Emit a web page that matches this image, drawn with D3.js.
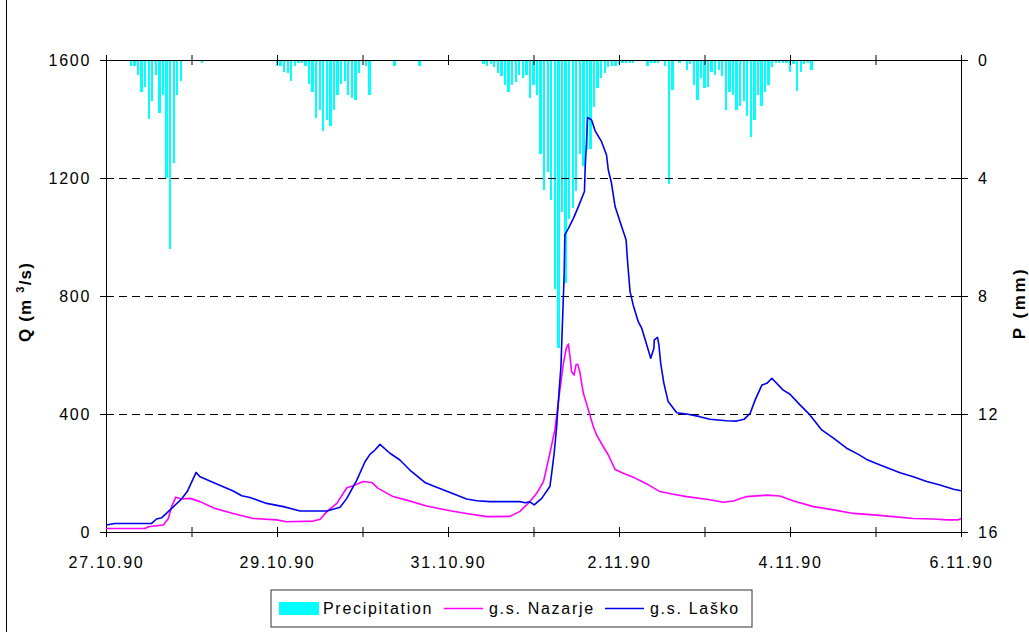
<!DOCTYPE html>
<html>
<head>
<meta charset="utf-8">
<script src="https://cdn.jsdelivr.net/npm/d3@7"></script>
<style>
  body { margin: 0; background: #fff; }
  text { font-family: "Liberation Sans", Arial, sans-serif; fill: #000; }
</style>
</head>
<body>
<svg id="chart" width="1029" height="632"></svg>
<script>
// ---------------- DATA ----------------
// time axis: hours since 27.10.90 00:00 (10 days)
const dayTicks = [0, 1, 2, 3, 4, 5, 6, 7, 8, 9, 10];
const labelDays = [0, 2, 4, 6, 8, 10];
const dateLabels = ["27.10.90", "29.10.90", "31.10.90", "2.11.90", "4.11.90", "6.11.90"];
const qTicks = [0, 400, 800, 1200, 1600];
const pTicks = [0, 4, 8, 12, 16];
const gridQ = [400, 800, 1200];

// hourly precipitation (mm), one row per day
const precipDay0 = [0,0,0,0,0,0,0,0.2,0.2,0.5,1.1,0.9,2.0,1.4,0.5,1.8,1.2,4.0,6.4,3.5,1.2,0.7,0,0];
const precipDay1 = [0.05,0,0,0.1,0,0.05,0.05,0,0,0,0,0,0,0,0,0,0,0,0,0,0,0,0,0];
const precipDay2 = [0.2,0.2,0.4,0.45,0.7,0.2,0.1,0.1,0.2,0.8,1.1,1.95,1.7,2.4,2.05,2.25,1.7,1.2,0.8,0.7,1.2,1.3,1.35,0.45];
const precipDay3 = [0.05,0.2,1.2,0.05,0,0.05,0.05,0.05,0.05,0.2,0.05,0,0.05,0,0,0.05,0.2,0,0,0,0,0,0,0];
const precipDay4 = [0,0,0,0,0,0,0,0,0,0.05,0.15,0.2,0.15,0.25,0.45,0.55,0.85,1.1,0.85,0.75,0.5,0.6,0.5,1.3];
const precipDay5 = [0.85,1.2,3.2,4.4,3.8,4.75,7.75,9.75,5.15,7.55,5.4,5.0,4.45,3.2,3.6,3.05,3.0,1.6,0.95,0.6,0.45,0.25,0.2,0.2];
const precipDay6 = [0.15,0.1,0.1,0.1,0.1,0.05,0.05,0,0.2,0.1,0.1,0.1,0,0.2,4.2,1.0,0.05,0.1,0.05,0.35,0.15,0.85,1.35,0.6];
const precipDay7 = [0.95,0.9,0.4,0.5,0.35,0.55,1.7,1.1,1.2,1.7,1.55,1.4,1.9,2.6,2.05,1.2,1.55,1.1,0.85,0.25,0.1,0.1,0.1,0.1];
const precipDay8 = [0.4,0.15,1.05,0.4,0.15,0.1,0.35,0,0,0,0,0,0,0,0,0,0,0,0,0,0,0,0,0];
const precipDay9 = [0,0,0,0,0,0,0,0,0,0,0,0,0,0,0,0,0,0,0,0,0,0,0,0];

// discharge g.s. Laško (hour, m3/s)
const laskoHours = [0,2.5,12.8,14.2,15.6,18,21.2,22.8,25.3,26.4,31.1,35.7,38.1,40.4,45.1,49.8,54.5,62,65.7,67.6,70.4,72.7,74.1,75.5,76.9,79.7,82.5,85.3,89.5,91.9,96.6,101.2,104.1,107.8,116.2,117.6,119,120.2,122.3,124.6,125.1,125.8,126.5,127.2,127.7,128.1,128.6,128.8,129.8,131.2,132.6,134.3,134.5,134.9,135.2,136.3,137.3,139.1,140.5,141,141.9,142.9,144.3,146,146.3,147.1,148,149.4,150.4,151.8,152.9,153.8,153.9,154.8,155.2,155.7,156.6,157.8,160.2,163,166.7,169.5,174.2,177,179.1,180.8,182.2,184.1,185.5,186.9,190.1,192,194.8,197.6,200.9,204.2,207.9,211.2,213.5,217.3,222.9,226.6,230.4,234.1,237.9,240];
const laskoQ = [24,29,29,44,48,75,112,137,202,187,163,139,123,117,97,86,71,71,84,114,176,238,263,278,297,267,244,210,168,156,134,112,106,103,103,99,102,92,114,154,199,267,357,481,560,700,871,1007,1029,1063,1103,1154,1233,1329,1405,1397,1360,1323,1278,1227,1182,1103,1052,990,933,815,769,713,690,634,589,623,651,660,634,572,504,442,404,400,391,382,377,376,382,402,447,498,504,521,481,467,431,397,346,318,284,263,246,227,201,187,171,159,145,140];

// discharge g.s. Nazarje (hour, m3/s)
const nazarjeHours = [0,10.9,11.9,16.1,17.5,18.4,19.6,21.2,23.6,26.4,30.6,35.7,41.3,47.9,50.7,58.2,60.1,62,64.8,67.6,69.4,72.2,74.6,76.4,80.6,84.4,90,96.6,101.2,106.9,113.4,116.2,119,120.9,122.8,124.6,126,127.4,128.4,129.2,129.8,130.3,130.7,131.4,131.9,132.4,133,134,135.4,136.8,137.7,139.6,141,142.9,145.2,148,151.8,155.5,159.2,163,168.6,173.3,176.1,179.8,185.5,189.2,193,198.6,204.2,209.8,215.4,221,226.6,232.2,236,239.2,240];
const nazarjeQ = [12,12,18,24,46,86,118,112,114,103,80,63,46,41,35,37,43,69,97,150,157,171,168,148,120,108,88,72,63,52,53,70,103,131,171,267,346,481,572,623,637,589,543,532,566,569,543,470,414,357,329,289,261,212,199,186,163,137,128,120,111,101,105,120,125,122,105,86,75,63,58,52,46,44,41,41,46];

const seriesNames = ["Precipitation", "g.s. Nazarje", "g.s. Laško"];
const seriesColors = ["#00ffff", "#ff00ff", "#0000ee"];

// ---------------- CHART ----------------
const precip = [].concat(precipDay0, precipDay1, precipDay2, precipDay3, precipDay4,
                         precipDay5, precipDay6, precipDay7, precipDay8, precipDay9);
const lasko = laskoHours.map((h, i) => [h, laskoQ[i]]);
const nazarje = nazarjeHours.map((h, i) => [h, nazarjeQ[i]]);

const svg = d3.select("#chart");
const L = 106, R = 961, T = 60, B = 532;

const x = d3.scaleLinear().domain([0, 240]).range([L, R]);
const yQ = d3.scaleLinear().domain([0, 1600]).range([B, T]);
const yP = d3.scaleLinear().domain([0, 16]).range([T, B]);

// outer chart-area border (left edge visible)
svg.append("line").attr("x1", 6.5).attr("x2", 6.5).attr("y1", 0).attr("y2", 632)
   .attr("stroke", "#000").attr("stroke-width", 1);

// precipitation bars (hanging from top, secondary axis)
const barW = (x(1) - x(0)) * 0.66;
svg.append("g").selectAll("rect")
  .data(precip.map((v, h) => ({h, v})).filter(d => d.v > 0))
  .join("rect")
  .attr("x", d => x(d.h) - barW / 2)
  .attr("width", barW)
  .attr("y", yP(0))
  .attr("height", d => yP(d.v) - yP(0))
  .attr("fill", seriesColors[0])
  .attr("shape-rendering", "crispEdges");

// dashed gridlines
svg.append("g").selectAll("line")
  .data(gridQ)
  .join("line")
  .attr("x1", L).attr("x2", R)
  .attr("y1", d => Math.round(yQ(d)) + 0.5).attr("y2", d => Math.round(yQ(d)) + 0.5)
  .attr("stroke", "#000").attr("stroke-width", 1).attr("stroke-dasharray", "8,5");

// axes
const fs = 16, ls = 1.7;
function styleAxis(g) {
  g.selectAll("text").attr("font-size", fs).attr("letter-spacing", ls)
    .attr("font-family", "'Liberation Sans', Arial, sans-serif").attr("fill", "#000");
  g.selectAll("path, line").attr("stroke", "#000");
}

const axL = svg.append("g").attr("transform", `translate(${L},0)`)
  .call(d3.axisLeft(yQ).tickValues(qTicks).tickSizeInner(6).tickSizeOuter(0).tickPadding(9).tickFormat(d3.format("d")))
  .call(styleAxis);
axL.selectAll(".tick line").attr("x1", 4);

const axR = svg.append("g").attr("transform", `translate(${R},0)`)
  .call(d3.axisRight(yP).tickValues(pTicks).tickSizeInner(7).tickSizeOuter(0).tickPadding(10).tickFormat(d3.format("d")))
  .call(styleAxis);
axR.selectAll(".tick line").attr("x1", -8);

const labelMap = new Map(labelDays.map((d, i) => [d * 24, dateLabels[i]]));
const axB = svg.append("g").attr("transform", `translate(0,${B})`)
  .call(d3.axisBottom(x).tickValues(dayTicks.map(d => d * 24)).tickSizeInner(5).tickSizeOuter(0).tickPadding(20)
        .tickFormat(d => labelMap.get(d) || ""))
  .call(styleAxis);
axB.selectAll(".tick line").attr("y1", -5);

const axT = svg.append("g").attr("transform", `translate(0,${T})`)
  .call(d3.axisTop(x).tickValues(dayTicks.map(d => d * 24)).tickSizeInner(5).tickSizeOuter(0).tickFormat(""))
  .call(styleAxis);
axT.selectAll(".tick line").attr("y1", 5);

// discharge lines
const line = d3.line().x(d => x(d[0])).y(d => yQ(d[1]));
svg.append("path").datum(nazarje).attr("d", line)
  .attr("fill", "none").attr("stroke", seriesColors[1]).attr("stroke-width", 1.6).attr("stroke-linejoin", "round");
svg.append("path").datum(lasko).attr("d", line)
  .attr("fill", "none").attr("stroke", seriesColors[2]).attr("stroke-width", 1.6).attr("stroke-linejoin", "round");

// axis titles
const qt = svg.append("text")
  .attr("transform", "translate(31,302) rotate(-90)")
  .attr("text-anchor", "middle").attr("font-weight", "bold").attr("font-size", 17)
  .attr("letter-spacing", 1.2);
qt.append("tspan").text("Q (m ");
qt.append("tspan").text("3").attr("font-size", 11).attr("dy", -7);
qt.append("tspan").text("/s)").attr("dy", 7);

svg.append("text")
  .attr("transform", "translate(1025,303) rotate(-90)")
  .attr("text-anchor", "middle").attr("font-weight", "bold").attr("font-size", 17)
  .attr("letter-spacing", 2.5)
  .text("P (mm)");

// legend
const lg = svg.append("g");
lg.append("rect").attr("x", 271).attr("y", 590).attr("width", 481).attr("height", 37)
  .attr("fill", "#fff").attr("stroke", "#333").attr("stroke-width", 1);
const legendItems = [
  {name: seriesNames[0], color: seriesColors[0], kind: "bar",  sx: 279, tx: 323},
  {name: seriesNames[1], color: seriesColors[1], kind: "line", sx: 444, tx: 489},
  {name: seriesNames[2], color: seriesColors[2], kind: "line", sx: 605, tx: 650}
];
legendItems.forEach(it => {
  if (it.kind === "bar") {
    lg.append("rect").attr("x", it.sx).attr("y", 602).attr("width", 40).attr("height", 13).attr("fill", it.color);
  } else {
    lg.append("line").attr("x1", it.sx).attr("x2", it.sx + 39).attr("y1", 608.5).attr("y2", 608.5)
      .attr("stroke", it.color).attr("stroke-width", 1.6);
  }
  lg.append("text").attr("x", it.tx).attr("y", 614).attr("font-size", fs).attr("letter-spacing", ls).text(it.name);
});
</script>
</body>
</html>
